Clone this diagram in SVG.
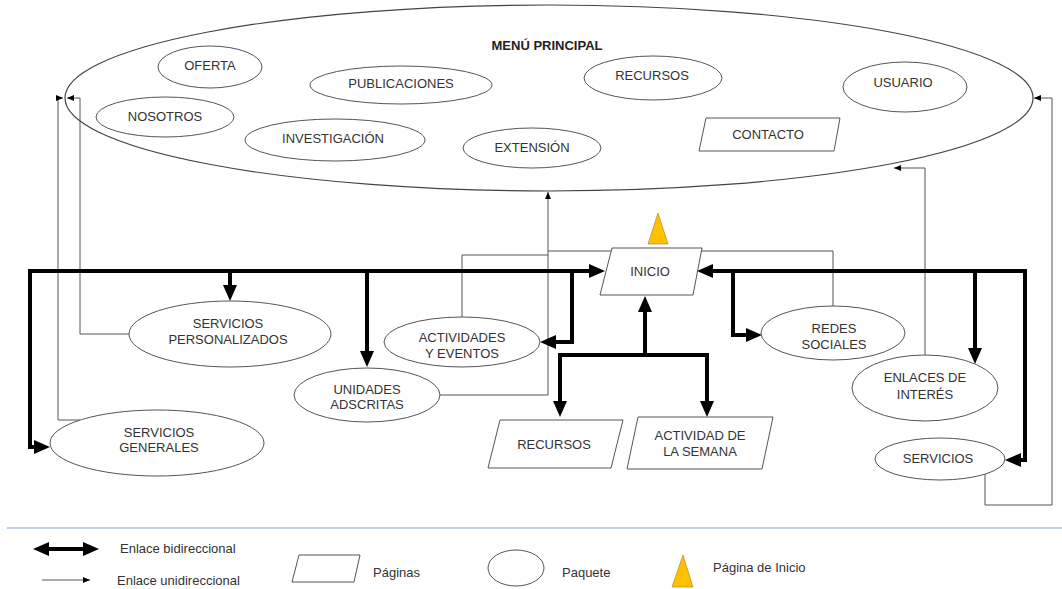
<svg xmlns="http://www.w3.org/2000/svg" width="1062" height="589" viewBox="0 0 1062 589">
<style>
  .nd { fill: #fff; stroke: #555; stroke-width: 1; }
  .big { fill: #fff; stroke: #444; stroke-width: 1.2; }
  .t { font-family: "Liberation Sans", Arial, sans-serif; font-size: 13px; fill: #333; text-anchor: middle; dominant-baseline: central; }
  .tb { font-family: "Liberation Sans", Arial, sans-serif; font-size: 13px; font-weight: bold; fill: #222; text-anchor: middle; dominant-baseline: central; }
  .lg { font-family: "Liberation Sans", Arial, sans-serif; font-size: 13px; fill: #333; text-anchor: start; dominant-baseline: central; }
  .thick { fill: none; stroke: #000; stroke-width: 4; stroke-linejoin: miter; }
  .thin { fill: none; stroke: #555; stroke-width: 1; }
  .home { fill: #FFC000; stroke: #a08020; stroke-width: 0.6; }
</style>
<defs>
  <marker id="bigA" markerUnits="userSpaceOnUse" markerWidth="16" markerHeight="16" viewBox="0 0 16 16" refX="6" refY="8" orient="auto-start-reverse">
    <path d="M0,1 L16,8 L0,15 z" fill="#000"/>
  </marker>
  <marker id="smA" markerUnits="userSpaceOnUse" markerWidth="7" markerHeight="6" viewBox="0 0 7 6" refX="7" refY="3" orient="auto">
    <path d="M0,0 L7,3 L0,6 z" fill="#000"/>
  </marker>
</defs>
<rect width="1062" height="589" fill="#fff"/>

<g id="menu-principal">
  <ellipse class="big" cx="549" cy="98" rx="484" ry="93"/>
  <text class="tb" x="547" y="45">MENÚ PRINCIPAL</text>
</g>

<g id="connectors">
  <!-- thin unidirectional links -->
  <path class="thin" d="M129 334 H80 V98 H67" marker-end="url(#smA)"/>
  <path class="thin" d="M80 420 H58 V98 H63" marker-end="url(#smA)"/>
  <path class="thin" d="M440 395 H548 V192" marker-end="url(#smA)"/>
  <path class="thin" d="M462 317 V255 H548"/>
  <path class="thin" d="M833 306 V251 H548"/>
  <path class="thin" d="M925 355 V168 H894" marker-end="url(#smA)"/>
  <path class="thin" d="M985 474 V505 H1052 V98 H1034" marker-end="url(#smA)"/>
  <!-- thick bidirectional links -->
  <path class="thick" d="M40 447 H30 V271 H595" marker-start="url(#bigA)" marker-end="url(#bigA)"/>
  <path class="thick" d="M230 271 V291" marker-end="url(#bigA)"/>
  <path class="thick" d="M367 271 V357" marker-end="url(#bigA)"/>
  <path class="thick" d="M572 271 V342 H550" marker-end="url(#bigA)"/>
  <path class="thick" d="M1015 460 H1025 V271 H707" marker-start="url(#bigA)" marker-end="url(#bigA)"/>
  <path class="thick" d="M733 271 V335 H752" marker-end="url(#bigA)"/>
  <path class="thick" d="M975 271 V354" marker-end="url(#bigA)"/>
  <path class="thick" d="M645 357 V306" marker-end="url(#bigA)"/>
  <path class="thick" d="M560 407 V355 H707 V407" marker-start="url(#bigA)" marker-end="url(#bigA)"/>
</g>

<g id="oferta"><ellipse class="nd" cx="210" cy="67" rx="52" ry="21"/><text class="t" x="210" y="65">OFERTA</text></g>
<g id="nosotros"><ellipse class="nd" cx="165" cy="117" rx="69" ry="20"/><text class="t" x="165" y="116">NOSOTROS</text></g>
<g id="publicaciones"><ellipse class="nd" cx="401" cy="85" rx="91" ry="19"/><text class="t" x="401" y="83">PUBLICACIONES</text></g>
<g id="investigacion"><ellipse class="nd" cx="335" cy="140" rx="90" ry="21"/><text class="t" x="333" y="138">INVESTIGACIÓN</text></g>
<g id="extension"><ellipse class="nd" cx="532" cy="148" rx="69" ry="20"/><text class="t" x="532" y="147">EXTENSIÓN</text></g>
<g id="recursos-menu"><ellipse class="nd" cx="653" cy="78" rx="69" ry="22"/><text class="t" x="652" y="75">RECURSOS</text></g>
<g id="usuario"><ellipse class="nd" cx="905" cy="87" rx="62" ry="25"/><text class="t" x="903" y="82">USUARIO</text></g>
<g id="contacto"><polygon class="nd" points="706,118 840,118 834,151 699,151"/><text class="t" x="768" y="134">CONTACTO</text></g>

<g id="inicio"><polygon class="nd" points="612,248 702,248 693,295 600,295"/><text class="t" x="650" y="271">INICIO</text></g>
<g id="pagina-inicio-marca"><polygon class="home" points="658,213 668,244 648,244"/></g>

<g id="servicios-personalizados"><ellipse class="nd" cx="230" cy="334" rx="101" ry="33"/><text class="t" x="228" y="323">SERVICIOS</text><text class="t" x="228" y="339">PERSONALIZADOS</text></g>
<g id="servicios-generales"><ellipse class="nd" cx="157" cy="443" rx="107" ry="33"/><text class="t" x="159" y="432">SERVICIOS</text><text class="t" x="159" y="447">GENERALES</text></g>
<g id="unidades-adscritas"><ellipse class="nd" cx="367" cy="395" rx="73" ry="27"/><text class="t" x="367" y="389">UNIDADES</text><text class="t" x="367" y="404">ADSCRITAS</text></g>
<g id="actividades-eventos"><ellipse class="nd" cx="462" cy="342" rx="78" ry="25"/><text class="t" x="462" y="337">ACTIVIDADES</text><text class="t" x="462" y="353">Y EVENTOS</text></g>
<g id="redes-sociales"><ellipse class="nd" cx="833" cy="333" rx="72" ry="27"/><text class="t" x="834" y="328">REDES</text><text class="t" x="834" y="344">SOCIALES</text></g>
<g id="enlaces-interes"><ellipse class="nd" cx="925" cy="388" rx="73" ry="33"/><text class="t" x="925" y="377">ENLACES DE</text><text class="t" x="925" y="394">INTERÉS</text></g>
<g id="servicios"><ellipse class="nd" cx="940" cy="459" rx="65" ry="21"/><text class="t" x="938" y="458">SERVICIOS</text></g>
<g id="recursos"><polygon class="nd" points="500,420 623,420 611,468 488,468"/><text class="t" x="554" y="444">RECURSOS</text></g>
<g id="actividad-semana"><polygon class="nd" points="638,417 773,417 762,469 627,469"/><text class="t" x="700" y="435">ACTIVIDAD DE</text><text class="t" x="700" y="451">LA SEMANA</text></g>

<g id="legend">
  <line x1="7" y1="528" x2="1062" y2="528" stroke="#a9c4e0" stroke-width="1.5"/>
  <path class="thick" d="M43 549 H89" marker-start="url(#bigA)" marker-end="url(#bigA)"/>
  <text class="lg" x="120" y="548">Enlace bidireccional</text>
  <path class="thin" d="M42 580 H90" stroke="#000" marker-end="url(#smA)"/>
  <text class="lg" x="117" y="580">Enlace unidireccional</text>
  <polygon class="nd" points="299,555 360,555 354,582 292,582"/>
  <text class="lg" x="373" y="572">Páginas</text>
  <ellipse class="nd" cx="516" cy="568" rx="28" ry="18"/>
  <text class="lg" x="562" y="572">Paquete</text>
  <polygon class="home" points="683,555 693,587 672,587"/>
  <text class="lg" x="713" y="567">Página de Inicio</text>
</g>
</svg>
